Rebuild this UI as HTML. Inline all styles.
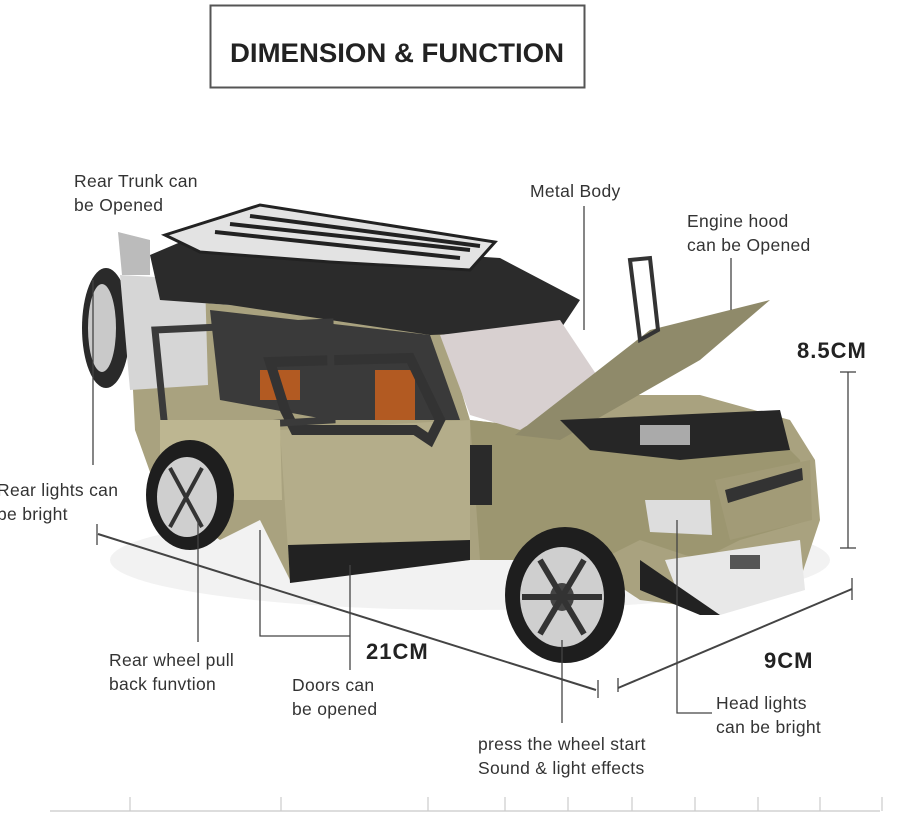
<!DOCTYPE html>
<html><head><style>
html,body{margin:0;padding:0;background:#fff;}
svg{display:block;}
text{font-family:"Liberation Sans",sans-serif;}
</style></head><body>
<svg width="900" height="816" viewBox="0 0 900 816" xmlns="http://www.w3.org/2000/svg">
<rect width="900" height="816" fill="#fff"/>
<rect x="210.5" y="5.5" width="374" height="82" fill="#fff" stroke="#555" stroke-width="2"/>
<text x="397" y="62" font-size="27" font-weight="bold" text-anchor="middle" fill="#222" textLength="334" lengthAdjust="spacingAndGlyphs">DIMENSION &amp; FUNCTION</text>

<g>
<ellipse cx="470" cy="560" rx="360" ry="50" fill="#f2f2f2"/>
<polygon points="130,330 160,300 440,320 470,420 560,430 600,395 700,395 790,420 815,460 820,520 800,580 720,610 640,600 580,560 520,560 470,560 290,580 260,520 220,540 160,500 135,430" fill="#a9a27f"/>
<polygon points="470,420 560,430 620,420 760,420 800,460 810,520 740,540 700,560 640,540 600,560 480,560" fill="#9c9670"/>
<ellipse cx="106" cy="328" rx="24" ry="60" fill="#2a2a2a"/>
<ellipse cx="102" cy="328" rx="14" ry="44" fill="#c9c9c9"/>
<polygon points="120,275 205,280 208,385 130,390" fill="#d6d6d6"/>
<polygon points="118,232 150,240 150,275 122,275" fill="#bbb"/>
<polygon points="150,255 190,238 500,258 580,300 560,330 430,335 230,305 160,300" fill="#2b2b2b"/>
<polygon points="165,235 260,205 495,242 470,270 330,262 200,252" fill="#e3e3e3" stroke="#222" stroke-width="3"/>
<g stroke="#222" stroke-width="4">
<line x1="215" y1="232" x2="460" y2="258"/><line x1="230" y1="224" x2="470" y2="250"/><line x1="250" y1="216" x2="480" y2="246"/>
</g>
<polygon points="210,310 430,335 460,420 330,420 220,400" fill="#3a3a3a"/>
<rect x="260" y="370" width="40" height="30" fill="#b25a22"/>
<rect x="375" y="370" width="40" height="50" fill="#b25a22"/>
<polygon points="440,335 560,320 600,380 520,430 470,415" fill="#d8d0d0"/>
<polygon points="280,430 470,420 470,555 290,580" fill="#b4ad8a"/>
<polygon points="270,362 410,358 440,420 430,440 415,430 295,430 285,410" fill="none" stroke="#333" stroke-width="10"/>
<polygon points="288,545 470,540 470,560 290,583" fill="#222"/>
<polygon points="155,330 330,322 332,420 165,430" fill="none" stroke="#3a3a3a" stroke-width="7"/>
<polygon points="160,420 280,420 282,500 200,500 160,470" fill="#bdb691"/>
<polygon points="515,435 650,330 770,300 700,360 560,440" fill="#8f8a6a"/>
<polygon points="630,260 650,258 658,330 640,340" fill="none" stroke="#333" stroke-width="4"/>
<polygon points="560,420 780,410 790,450 680,460 590,450" fill="#262626"/>
<rect x="640" y="425" width="50" height="20" fill="#aaa"/>
<polygon points="715,480 810,460 812,520 730,540" fill="#a29b77"/>
<polygon points="725,490 802,468 803,480 728,503" fill="#333"/>
<polygon points="645,500 710,500 712,535 650,532" fill="#ddd"/>
<polygon points="665,560 800,540 805,590 720,615 680,598" fill="#e8e8e8"/>
<polygon points="640,560 720,615 700,615 640,590" fill="#222"/>
<rect x="730" y="555" width="30" height="14" fill="#555"/>
<ellipse cx="565" cy="595" rx="60" ry="68" fill="#1e1e1e"/>
<ellipse cx="562" cy="597" rx="42" ry="50" fill="#cfcfcf"/>
<ellipse cx="562" cy="597" rx="12" ry="14" fill="#444"/>
<g stroke="#333" stroke-width="6">
<line x1="540" y1="560" x2="584" y2="634"/><line x1="584" y1="560" x2="540" y2="634"/><line x1="522" y1="597" x2="602" y2="597"/>
</g>
<ellipse cx="190" cy="495" rx="44" ry="55" fill="#1e1e1e"/>
<ellipse cx="187" cy="497" rx="30" ry="40" fill="#cfcfcf"/>
<g stroke="#333" stroke-width="4"><line x1="170" y1="468" x2="202" y2="527"/><line x1="202" y1="468" x2="170" y2="527"/></g>
<rect x="470" y="445" width="22" height="60" fill="#2a2a2a"/>
</g>

<g stroke="#444" stroke-width="1.3" fill="none">
<line x1="93" y1="280" x2="93" y2="465"/>
<line x1="584" y1="206" x2="584" y2="330"/>
<line x1="731" y1="258" x2="731" y2="310"/>
<line x1="848" y1="372" x2="848" y2="548"/>
<line x1="840" y1="372" x2="856" y2="372"/>
<line x1="840" y1="548" x2="856" y2="548"/>
<line x1="98" y1="534" x2="596" y2="690" stroke-width="2"/>
<line x1="97" y1="524" x2="97" y2="545"/>
<line x1="598" y1="680" x2="598" y2="698"/>
<line x1="618" y1="688" x2="852" y2="589" stroke-width="2"/>
<line x1="618" y1="678" x2="618" y2="692"/>
<line x1="852" y1="578" x2="852" y2="600"/>
<line x1="198" y1="520" x2="198" y2="642"/>
<polyline points="260,530 260,636 350,636"/>
<line x1="350" y1="565" x2="350" y2="670"/>
<line x1="562" y1="640" x2="562" y2="723"/>
<polyline points="677,520 677,713 712,713"/>
<line x1="50" y1="811" x2="880" y2="811" stroke="#ddd" stroke-width="2"/>
</g>
<g stroke="#ccc" stroke-width="1.2">
<line x1="130" y1="797" x2="130" y2="811"/><line x1="281" y1="797" x2="281" y2="811"/><line x1="428" y1="797" x2="428" y2="811"/><line x1="505" y1="797" x2="505" y2="811"/><line x1="568" y1="797" x2="568" y2="811"/><line x1="632" y1="797" x2="632" y2="811"/><line x1="695" y1="797" x2="695" y2="811"/><line x1="758" y1="797" x2="758" y2="811"/><line x1="820" y1="797" x2="820" y2="811"/><line x1="882" y1="797" x2="882" y2="811"/>
</g>

<g font-size="17.5" fill="#333" letter-spacing="0.3">
<text x="74" y="187">Rear  Trunk can</text>
<text x="74" y="211">be Opened</text>
<text x="530" y="197">Metal Body</text>
<text x="687" y="227">Engine hood</text>
<text x="687" y="251">can be Opened</text>
<text x="-3" y="496">Rear lights can</text>
<text x="-3" y="520">be bright</text>
<text x="109" y="666">Rear wheel pull</text>
<text x="109" y="690">back funvtion</text>
<text x="292" y="691">Doors can</text>
<text x="292" y="715">be opened</text>
<text x="478" y="750">press the wheel start</text>
<text x="478" y="774">Sound &amp; light effects</text>
<text x="716" y="709">Head lights</text>
<text x="716" y="733">can be bright</text>
</g>
<g font-size="22" font-weight="bold" fill="#222" letter-spacing="1">
<text x="797" y="358">8.5CM</text>
<text x="366" y="659">21CM</text>
<text x="764" y="668">9CM</text>
</g>
</svg>
</body></html>
